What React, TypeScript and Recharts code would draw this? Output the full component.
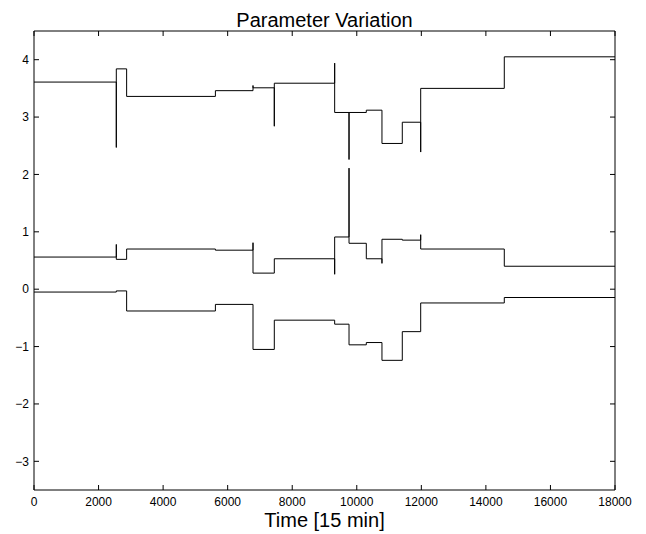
import { Line, LineChart, XAxis, YAxis } from "recharts";

// change points shared by all three parameters (time index)
const breakTimes = [2550, 2870, 5620, 6785, 7445, 9315, 9760, 10295, 10780, 11410, 11980, 14570];
const endTime = 18000;

// level held after each change point (first entry = level from t=0)
const upperLevels = [3.61, 3.84, 3.36, 3.46, 3.51, 3.59, 3.08, 3.08, 3.12, 2.54, 2.91, 3.5, 4.05];
const middleLevels = [0.56, 0.52, 0.7, 0.68, 0.28, 0.53, 0.91, 0.8, 0.53, 0.87, 0.855, 0.7, 0.4];
const lowerLevels = [-0.05, -0.03, -0.38, -0.265, -1.05, -0.54, -0.61, -0.97, -0.93, -1.24, -0.74, -0.24, -0.145];

// single-sample glitches at the change points (null = none)
const upperSpikes = [2.47, null, null, 3.55, 2.84, 3.94, 2.26, null, null, null, 2.39, null];
const middleSpikes = [0.78, null, null, 0.81, null, 0.26, 2.11, null, 0.45, null, 0.95, null];
const lowerSpikes = [null, null, null, null, null, null, null, null, null, null, null, null];

const xTicks = [0, 2000, 4000, 6000, 8000, 10000, 12000, 14000, 16000, 18000];
const yTicks = [-3, -2, -1, 0, 1, 2, 3, 4];

type Pt = { t: number; v: number };

function buildSteps(levels: number[], spikes: (number | null)[]): Pt[] {
  const pts: Pt[] = [{ t: 0, v: levels[0] }];
  breakTimes.forEach((t, i) => {
    pts.push({ t, v: levels[i] });
    const s = spikes[i];
    if (s !== null) pts.push({ t, v: s });
    pts.push({ t, v: levels[i + 1] });
  });
  pts.push({ t: endTime, v: levels[levels.length - 1] });
  return pts;
}

// the middle trace sits on the mirrored top/right axes so those get ticks too
// (same domains, so it lands in the same place)
const series = [
  { pts: buildSteps(upperLevels, upperSpikes), x: 0, y: 0 },
  { pts: buildSteps(middleLevels, middleSpikes), x: "top", y: "right" },
  { pts: buildSteps(lowerLevels, lowerSpikes), x: 0, y: 0 },
];

const font = '"Liberation Sans", Arial, Helvetica, sans-serif';
const tickStyle = { fill: "#000", fontSize: 12, fontFamily: font };
const axisStroke = { stroke: "#000", strokeWidth: 1 };
const fmtY = (v: number) => (v < 0 ? `\u2212${Math.abs(v)}` : `${v}`);
const noLabel = () => <g />;

export default function App() {
  return (
    <div style={{ position: "absolute", left: 0, top: 0, width: 646, height: 534, background: "#fff" }}>
      <div
        style={{
          position: "absolute",
          left: 34,
          width: 581,
          top: 10,
          textAlign: "center",
          fontFamily: font,
          fontSize: 20,
          lineHeight: "20px",
          color: "#000",
        }}
      >
        Parameter Variation
      </div>
      <LineChart width={646} height={534} margin={{ top: 30, right: 30, left: 0, bottom: 0 }}>
        <XAxis
          type="number"
          dataKey="t"
          domain={[0, endTime]}
          ticks={xTicks}
          height={44}
          tick={tickStyle}
          tickSize={-5}
          tickMargin={12}
          axisLine={axisStroke}
          tickLine={axisStroke}
        />
        <XAxis
          xAxisId="top"
          orientation="top"
          type="number"
          dataKey="t"
          domain={[0, endTime]}
          ticks={xTicks}
          height={1}
          tick={noLabel}
          tickSize={-5}
          axisLine={axisStroke}
          tickLine={axisStroke}
        />
        <YAxis
          type="number"
          domain={[-3.5, 4.5]}
          ticks={yTicks}
          width={34}
          tick={tickStyle}
          tickFormatter={fmtY}
          tickSize={-5}
          tickMargin={10}
          axisLine={axisStroke}
          tickLine={axisStroke}
        />
        <YAxis
          yAxisId="right"
          orientation="right"
          type="number"
          domain={[-3.5, 4.5]}
          ticks={yTicks}
          width={1}
          tick={noLabel}
          tickSize={-5}
          axisLine={axisStroke}
          tickLine={axisStroke}
        />
        {series.map((s, i) => (
          <Line
            key={i}
            data={s.pts}
            dataKey="v"
            xAxisId={s.x}
            yAxisId={s.y}
            type="linear"
            stroke="#000"
            strokeWidth={1}
            dot={false}
            activeDot={false}
            isAnimationActive={false}
          />
        ))}
      </LineChart>
      <div
        style={{
          position: "absolute",
          left: 34,
          width: 581,
          top: 510,
          textAlign: "center",
          fontFamily: font,
          fontSize: 20,
          lineHeight: "20px",
          color: "#000",
        }}
      >
        Time [15 min]
      </div>
    </div>
  );
}
